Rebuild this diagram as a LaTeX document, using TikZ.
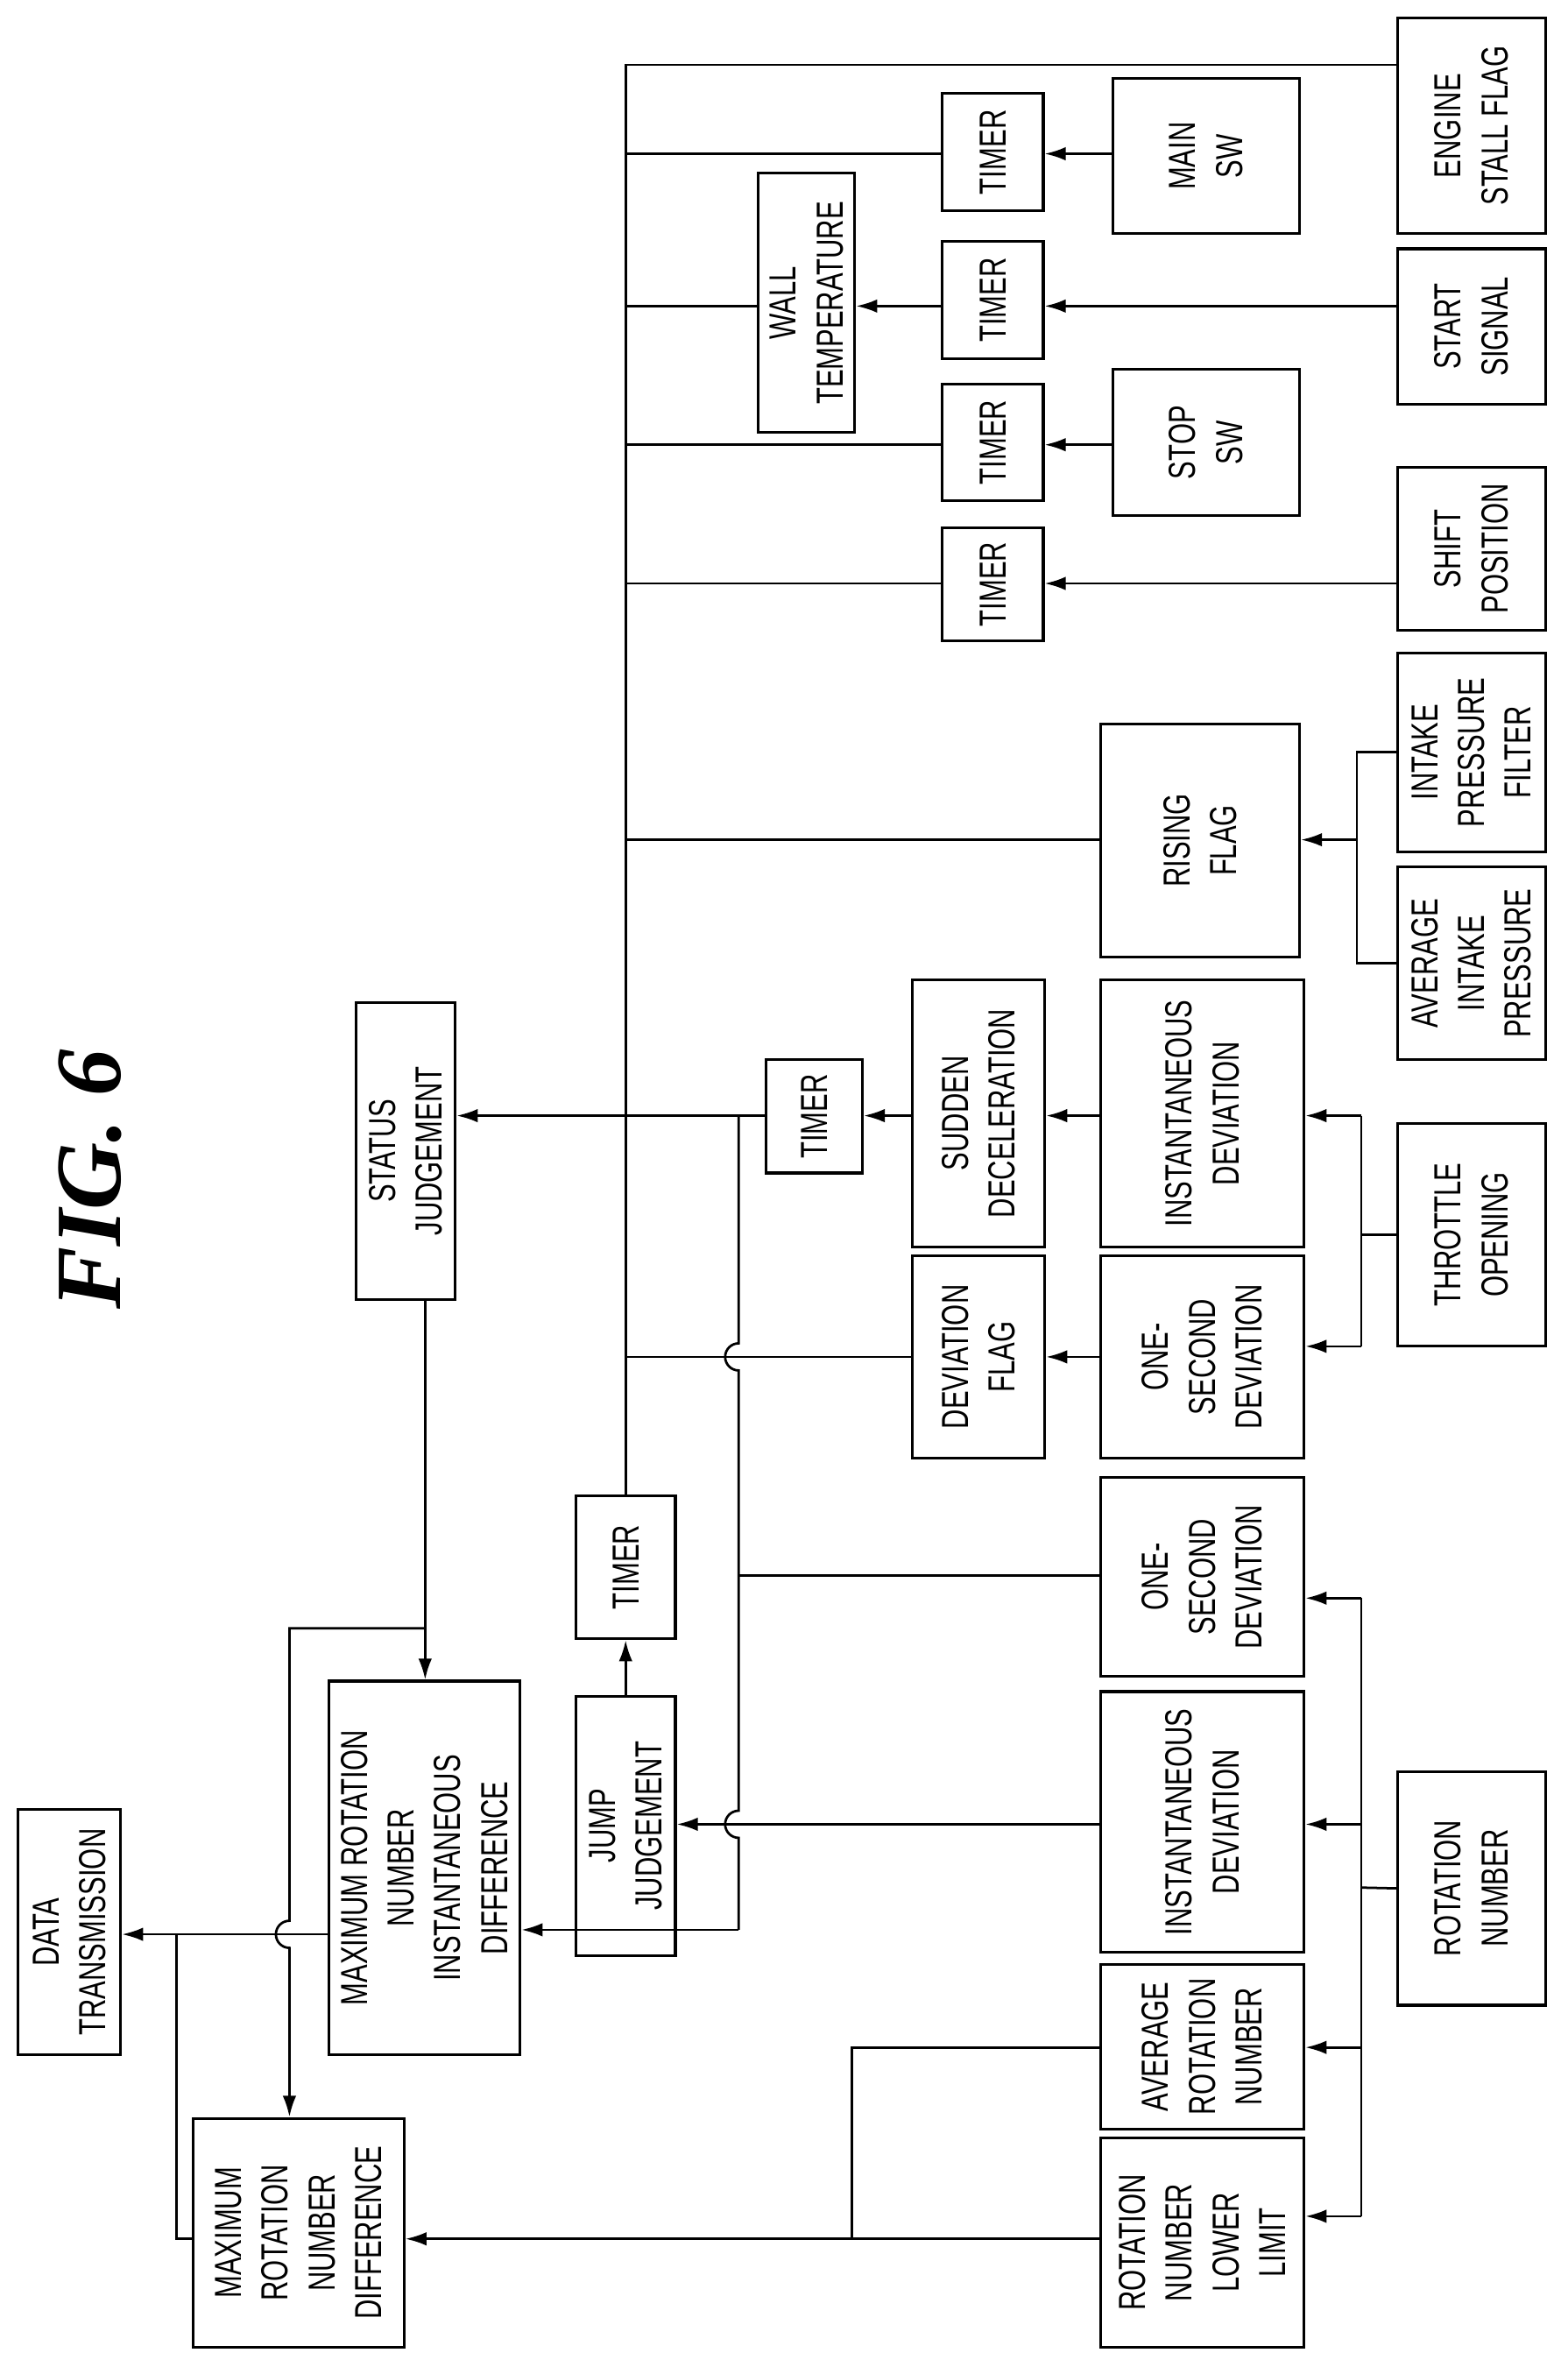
\documentclass[tikz,border=0pt]{standalone}
\usepackage{fontspec}
\setmainfont[FakeStretch=0.72]{Liberation Sans}
\newfontfamily\titlefont{Liberation Serif}
\usetikzlibrary{arrows.meta}
\newcommand\bx[6]{\node[box, minimum width={(#5-#3)*1pt}, minimum height={(#4-#2)*1pt}] (#1) at ({(#2+#4)/2},{-(#3+#5)/2}) {#6};}
\begin{document}
\begin{tikzpicture}[x=1pt,y=1pt,
  box/.style={draw, line width=1.8pt, rotate=90, inner sep=0pt, align=center, font=\fontsize{25}{31}\selectfont},
  ln/.style={line width=1.6pt},
  arr/.style={ln, -{Latex[length=14pt,width=9pt]}}]
\useasboundingbox (0,0) rectangle (1040,-1570);
\node[rotate=90, font=\titlefont\bfseries\itshape\fontsize{62}{70}\selectfont] (title) at (60,-782) {FIG. 6};
\bx{dt}{12}{1200}{80}{1363}{DATA\\TRANSMISSION}
\bx{mrd}{128}{1405}{268}{1557}{MAXIMUM\\ROTATION\\NUMBER\\DIFFERENCE}
\bx{mrid}{218}{1115}{345}{1363}{MAXIMUM ROTATION\\NUMBER\\INSTANTANEOUS\\DIFFERENCE}
\bx{jump}{382}{1125}{448}{1297}{JUMP\\JUDGEMENT}
\bx{jt}{382}{992}{448}{1087}{TIMER}
\bx{status}{236}{665}{302}{862}{STATUS\\JUDGEMENT}
\bx{lowlim}{730}{1418}{865}{1557}{ROTATION\\NUMBER\\LOWER\\LIMIT}
\bx{avgrot}{730}{1303}{865}{1412}{AVERAGE\\ROTATION\\NUMBER}
\bx{idrot}{730}{1122}{865}{1295}{INSTANTANEOUS\\DEVIATION}
\bx{osrot}{730}{980}{865}{1112}{ONE-\\SECOND\\DEVIATION}
\bx{rot}{927}{1175}{1025}{1330}{ROTATION\\NUMBER}
\bx{devflag}{605}{833}{693}{967}{DEVIATION\\FLAG}
\bx{osthr}{730}{833}{865}{967}{ONE-\\SECOND\\DEVIATION}
\bx{sudden}{605}{650}{693}{827}{SUDDEN\\DECELERATION}
\bx{idthr}{730}{650}{865}{827}{INSTANTANEOUS\\DEVIATION}
\bx{tsud}{508}{703}{572}{778}{TIMER}
\bx{thr}{927}{745}{1025}{893}{THROTTLE\\OPENING}
\bx{rising}{730}{480}{862}{635}{RISING\\FLAG}
\bx{avgp}{927}{575}{1025}{703}{AVERAGE\\INTAKE\\PRESSURE}
\bx{filt}{927}{433}{1025}{565}{INTAKE\\PRESSURE\\FILTER}
\bx{tshift}{625}{350}{692}{425}{TIMER}
\bx{shift}{927}{310}{1025}{418}{SHIFT\\POSITION}
\bx{tstop}{625}{255}{692}{332}{TIMER}
\bx{stopsw}{738}{245}{862}{342}{STOP\\SW}
\bx{wall}{503}{115}{567}{287}{WALL\\TEMPERATURE}
\bx{tstart}{625}{160}{692}{238}{TIMER}
\bx{start}{927}{165}{1025}{268}{START\\SIGNAL}
\bx{tmain}{625}{62}{692}{140}{TIMER}
\bx{mainsw}{738}{52}{862}{155}{MAIN\\SW}
\bx{stall}{927}{12}{1025}{155}{ENGINE\\STALL FLAG}
% bus
\draw[ln] (jt.east) -- (415,-43) -- (stall.north |- 0,-43);
\draw[ln] (415,-102) -- (tmain.north |- 0,-102);
\draw[ln] (415,-203) -- (wall.north |- 0,-203);
\draw[ln] (415,-295) -- (tstop.north |- 0,-295);
\draw[ln] (415,-387) -- (tshift.north |- 0,-387);
\draw[ln] (415,-557) -- (rising.north |- 0,-557);
\draw[ln] (415,-900) -- (devflag.north |- 0,-900);
% top inputs
\draw[arr] (mainsw.north |- 0,-102) -- (tmain.south |- 0,-102);
\draw[arr] (start.north |- 0,-203) -- (tstart.south |- 0,-203);
\draw[arr] (tstart.north |- 0,-203) -- (wall.south |- 0,-203);
\draw[arr] (stopsw.north |- 0,-295) -- (tstop.south |- 0,-295);
\draw[arr] (shift.north |- 0,-387) -- (tshift.south |- 0,-387);
% rising
\draw[ln] (filt.north) -- (900,-499) -- (900,-639) -- (avgp.north);
\draw[arr] (900,-557) -- (rising.south |- 0,-557);
% throttle
\draw[ln] (thr.north) -- (903,-819);
\draw[ln] (903,-740) -- (903,-893);
\draw[arr] (903,-740) -- (idthr.south |- 0,-740);
\draw[arr] (903,-893) -- (osthr.south |- 0,-893);
\draw[arr] (idthr.north |- 0,-740) -- (sudden.south |- 0,-740);
\draw[arr] (osthr.north |- 0,-900) -- (devflag.south |- 0,-900);
\draw[arr] (sudden.north |- 0,-740) -- (tsud.south |- 0,-740);
\draw[arr] (tsud.north |- 0,-740) -- (status.south |- 0,-740);
% vertical 490
\draw[ln] (490,-740) -- (490,-891) arc[start angle=90,end angle=270,radius=9] -- (490,-1201) arc[start angle=90,end angle=270,radius=9] -- (490,-1280);
\draw[arr] (490,-1280) -- (mrid.south |- 0,-1280);
\draw[ln] (osrot.north |- 0,-1045) -- (490,-1045);
\draw[arr] (idrot.north |- 0,-1210) -- (jump.south |- 0,-1210);
\draw[arr] (jump.east) -- (jt.west);
% rotation number
\draw[ln] (rot.north) -- (903,-1252);
\draw[ln] (903,-1060) -- (903,-1470);
\draw[arr] (903,-1060) -- (osrot.south |- 0,-1060);
\draw[arr] (903,-1210) -- (idrot.south |- 0,-1210);
\draw[arr] (903,-1358) -- (avgrot.south |- 0,-1358);
\draw[arr] (903,-1470) -- (lowlim.south |- 0,-1470);
\draw[ln] (avgrot.north |- 0,-1358) -- (565,-1358) -- (565,-1485);
\draw[arr] (lowlim.north |- 0,-1485) -- (mrd.south |- 0,-1485);
% outputs
\draw[ln] (mrd.north |- 0,-1485) -- (117,-1485) -- (117,-1283);
\draw[arr] (mrid.north |- 0,-1283) -- (dt.south |- 0,-1283);
\draw[arr] (status.west -| 282,0) -- (mrid.east -| 282,0);
\draw[ln] (282,-1080) -- (192,-1080) -- (192,-1274) arc[start angle=90,end angle=270,radius=9] -- (192,-1300);
\draw[arr] (192,-1300) -- (mrd.east -| 192,0);
\end{tikzpicture}
\end{document}
